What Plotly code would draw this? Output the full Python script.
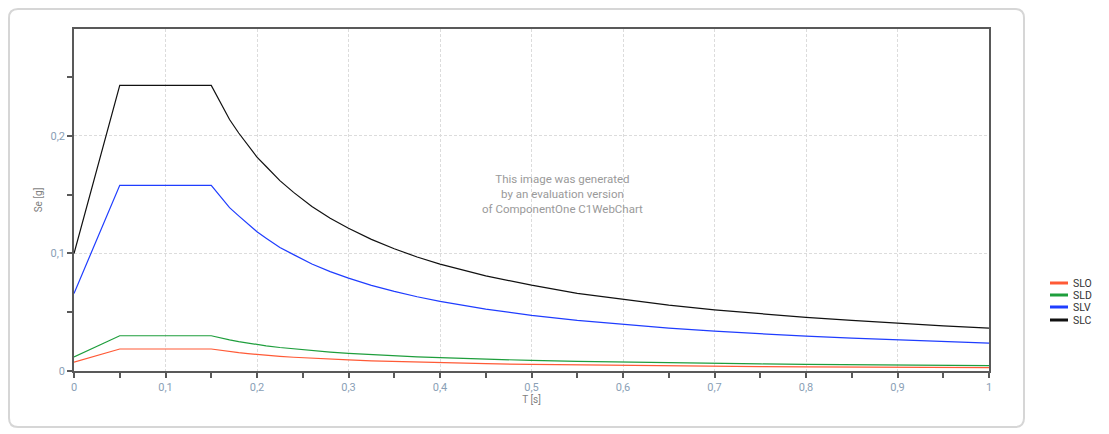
import plotly.graph_objects as go

# Periods T [s]
T = [0, 0.05, 0.15, 0.16, 0.17, 0.18, 0.19, 0.2, 0.21, 0.225, 0.24, 0.26, 0.28, 0.3, 0.325,
     0.35, 0.375, 0.4, 0.45, 0.5, 0.55, 0.6, 0.65, 0.7, 0.75, 0.8, 0.85, 0.9, 0.95, 1.0]

# Spectral acceleration Se [g]
SLO = [0.0075, 0.0187, 0.0187, 0.0175, 0.0165, 0.0156, 0.0148, 0.014, 0.0134, 0.0125, 0.0117, 0.0108,
       0.010, 0.0094, 0.0086, 0.008, 0.0075, 0.007, 0.0062, 0.0056, 0.0051, 0.0047, 0.0043, 0.004,
       0.0037, 0.0035, 0.0033, 0.0031, 0.0029, 0.0028]
SLD = [0.012, 0.030, 0.030, 0.0281, 0.0265, 0.025, 0.0237, 0.0225, 0.0214, 0.020, 0.0188, 0.0173,
       0.0161, 0.015, 0.0138, 0.0129, 0.012, 0.0113, 0.010, 0.009, 0.0082, 0.0075, 0.0069, 0.0064,
       0.006, 0.0056, 0.0053, 0.005, 0.0047, 0.0045]
SLV = [0.066, 0.158, 0.158, 0.148, 0.139, 0.132, 0.125, 0.1185, 0.113, 0.105, 0.099, 0.091,
       0.0846, 0.079, 0.0729, 0.0677, 0.0632, 0.0593, 0.0527, 0.0474, 0.0431, 0.0395, 0.0365, 0.0339,
       0.0316, 0.0296, 0.0279, 0.0263, 0.0249, 0.0237]
SLC = [0.100, 0.243, 0.243, 0.228, 0.214, 0.2025, 0.192, 0.182, 0.174, 0.162, 0.152, 0.140,
       0.130, 0.1215, 0.112, 0.104, 0.097, 0.091, 0.081, 0.073, 0.066, 0.061, 0.056, 0.052,
       0.0486, 0.0456, 0.043, 0.0405, 0.0384, 0.0365]

names = ["SLO", "SLD", "SLV", "SLC"]
series = [SLO, SLD, SLV, SLC]
colors = ["#FF5A36", "#1E9E3C", "#1F3DFF", "#111111"]

OFF = 8  # page body margin
W, H = 1109 - OFF, 434 - OFF
# desired plot area in page pixels: x 74..989, y 29..371
ML = 74 - OFF
MT = 29 - OFF
MR = W - (989 - OFF)
MB = H - (371 - OFF)
PW = W - ML - MR
PH = H - MT - MB

def px_x(px):
    return (px - OFF - ML) / PW

def px_y(py):
    return (H - MB - (py - OFF)) / PH

fig = go.Figure()
for n, s, c in zip(names, series, colors):
    fig.add_trace(go.Scatter(x=T, y=s, mode="lines", name=n,
                             line=dict(color=c, width=1.2), showlegend=False))

shapes = []
annotations = []

# outer rounded frame
x0, x1, y0, y1 = 9, 1024, 9, 427
r = 9
pts = (
    f"M {px_x(x0 + r)},{px_y(y0)} L {px_x(x1 - r)},{px_y(y0)} "
    f"Q {px_x(x1)},{px_y(y0)} {px_x(x1)},{px_y(y0 + r)} "
    f"L {px_x(x1)},{px_y(y1 - r)} Q {px_x(x1)},{px_y(y1)} {px_x(x1 - r)},{px_y(y1)} "
    f"L {px_x(x0 + r)},{px_y(y1)} Q {px_x(x0)},{px_y(y1)} {px_x(x0)},{px_y(y1 - r)} "
    f"L {px_x(x0)},{px_y(y0 + r)} Q {px_x(x0)},{px_y(y0)} {px_x(x0 + r)},{px_y(y0)} Z"
)
shapes.append(dict(type="path", xref="paper", yref="paper", path=pts,
                   line=dict(color="#d6d6d6", width=2), layer="below"))

# manual legend
leg_y = [283, 295, 307, 320]
for n, c, ly in zip(names, colors, leg_y):
    shapes.append(dict(type="line", xref="paper", yref="paper",
                       x0=px_x(1050), x1=px_x(1068), y0=px_y(ly), y1=px_y(ly),
                       line=dict(color=c, width=3)))
    annotations.append(dict(xref="paper", yref="paper", x=px_x(1071), y=px_y(ly),
                            text=n, showarrow=False, xanchor="left", yanchor="middle",
                            font=dict(size=10.5, color="#333333", family="Roboto")))

# watermark
annotations.append(dict(xref="paper", yref="paper", x=px_x(562), y=px_y(194),
                        text="This image was generated<br>by an evaluation version<br>of ComponentOne C1WebChart",
                        showarrow=False, xanchor="center", yanchor="middle",
                        font=dict(size=11.5, color="#9a9a9a", family="Roboto")))

axis_common = dict(showline=True, linecolor="#595959", linewidth=1.5, mirror=True,
                   ticks="outside", ticklen=5, tickcolor="#595959", tickwidth=1.5,
                   showgrid=True, gridcolor="#dcdcdc", griddash="3px,2px", gridwidth=1,
                   zeroline=False,
                   tickfont=dict(size=11, color="#8aa0b6", family="Roboto"))

fig.update_layout(
    width=W, height=H,
    margin=dict(l=ML, r=MR, t=MT, b=MB),
    paper_bgcolor="white", plot_bgcolor="white",
    separators=", ",
    xaxis=dict(range=[0, 1], dtick=0.1, tick0=0,
               minor=dict(dtick=0.05, ticklen=5, tickcolor="#595959", tickwidth=1.5, showgrid=False, ticks="outside"),
               title=dict(text="T [s]", standoff=3, font=dict(size=10, color="#7f7f7f", family="Roboto")),
               **axis_common),
    yaxis=dict(range=[0, 0.291], dtick=0.1, tick0=0,
               minor=dict(dtick=0.05, ticklen=5, tickcolor="#595959", tickwidth=1.5, showgrid=False, ticks="outside"),
               title=dict(text="Se [g]", standoff=6, font=dict(size=10, color="#7f7f7f", family="Roboto")),
               **axis_common),
    shapes=shapes,
    annotations=annotations,
    showlegend=False,
)

fig.write_html("out.html")
